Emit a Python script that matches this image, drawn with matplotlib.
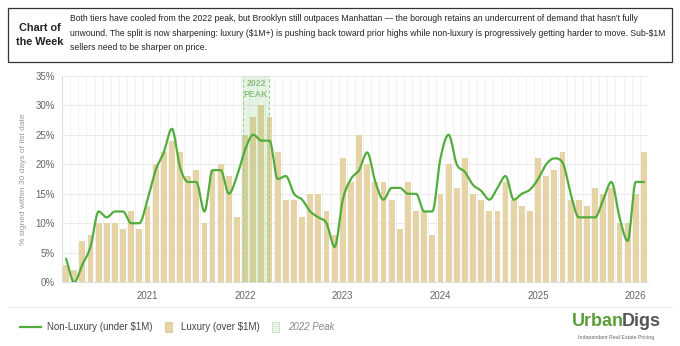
import numpy as np
import matplotlib
matplotlib.use("Agg")
import matplotlib.pyplot as plt
from matplotlib.patches import Rectangle
from matplotlib.lines import Line2D

plt.rcParams['font.family'] = ['Liberation Sans', 'DejaVu Sans']

# monthly data, Mar 2020 .. Feb 2026
start_year, start_month = 2020, 3
luxury = [3, 2, 7, 8, 10, 10, 10, 9, 12, 9,
          13, 20, 22, 24, 22, 18, 19, 10, 19, 20, 18, 11,
          25, 28, 30, 28, 22, 14, 14, 11, 15, 15, 12, 8,
          21, 17, 25, 20, 17, 17, 14, 9, 17, 12, 12, 8,
          15, 20, 16, 21, 15, 14, 12, 12, 17, 14, 13, 12,
          21, 18, 19, 22, 14, 14, 13, 16, 15, 16, 10, 10,
          15, 22]
non_luxury = [4, 0, 3, 6, 12, 11, 12, 12, 10, 10,
              14, 19, 22, 26, 19.5, 17, 17, 12, 19, 19, 15, 18,
              22.5, 25, 24, 24, 17.5, 18, 15, 14, 12, 11, 10, 6,
              14, 17.5, 19, 22, 17, 14, 16, 16, 15, 15, 12, 12,
              21, 25, 20, 18.7, 16.5, 15.5, 14, 16, 18, 14, 15, 15.7,
              17.5, 20, 21, 20.3, 15, 11, 11, 11, 14, 17, 11, 7,
              17, 17]
year_labels = ['2021', '2022', '2023', '2024', '2025', '2026']
peak_start, peak_end = (2022, 1), (2022, 4)

header_text = ("Both tiers have cooled from the 2022 peak, but Brooklyn still outpaces Manhattan \u2014 the borough retains an undercurrent of demand that hasn't fully\n"
               "unwound. The split is now sharpening: luxury (\\$1M+) is pushing back toward prior highs while non-luxury is progressively getting harder to move. Sub-\\$1M\n"
               "sellers need to be sharper on price.")


def month_index(y, m):
    return (y - start_year) * 12 + (m - start_month)


def monotone_path(xs, ys, n=24):
    # monotone cubic (Fritsch-Carlson), like chart.js "monotone"
    xs = np.asarray(xs, float)
    ys = np.asarray(ys, float)
    d = np.diff(ys) / np.diff(xs)
    m = np.zeros_like(ys)
    m[0], m[-1] = d[0], d[-1]
    for k in range(1, len(ys) - 1):
        if d[k - 1] * d[k] > 0:
            m[k] = (d[k - 1] + d[k]) / 2
    for k in range(len(d)):
        if d[k] == 0:
            m[k] = m[k + 1] = 0
            continue
        a, b = m[k] / d[k], m[k + 1] / d[k]
        s = a * a + b * b
        if s > 9:
            t = 3 / np.sqrt(s)
            m[k], m[k + 1] = t * a * d[k], t * b * d[k]
    px, py = [], []
    t = np.linspace(0, 1, n, endpoint=False)
    h00 = 2 * t**3 - 3 * t**2 + 1
    h10 = t**3 - 2 * t**2 + t
    h01 = -2 * t**3 + 3 * t**2
    h11 = t**3 - t**2
    for k in range(len(d)):
        h = xs[k + 1] - xs[k]
        px.append(xs[k] + t * h)
        py.append(h00 * ys[k] + h10 * h * m[k] + h01 * ys[k + 1] + h11 * h * m[k + 1])
    px.append([xs[-1]])
    py.append([ys[-1]])
    return np.concatenate(px), np.concatenate(py)


W, H = 680, 346
fig = plt.figure(figsize=(W / 100, H / 100), dpi=100)
fig.patch.set_facecolor('white')

# header box
fig.add_artist(Rectangle((8 / W, 1 - 62 / H), 664 / W, 54 / H, transform=fig.transFigure,
                         facecolor='white', edgecolor='#333333', lw=0.9))
fig.text(40 / W, 1 - 35 / H, "Chart of\nthe Week", ha='center', va='center',
         fontsize=7.8, fontweight='bold', color='#222222', linespacing=1.6)
fig.text(70 / W, 1 - 33 / H, header_text, ha='left', va='center', fontsize=6.2,
         color='#222222', linespacing=1.75)

ax = fig.add_axes([62 / W, 1 - 282.3 / H, 586 / W, 206.6 / H])
x = np.arange(len(luxury))

ax.bar(x, luxury, width=0.72, color='#e7d4a6', zorder=2)

p0 = month_index(*peak_start) - 0.2
p1 = month_index(*peak_end) - 0.1
ax.axvspan(p0, p1, facecolor='#66bb55', alpha=0.16, zorder=3, lw=0)
for xv in (p0, p1):
    ax.axvline(xv, color='#9fcf95', lw=0.8, ls=(0, (3, 2)), zorder=3)
ax.text((p0 + p1) / 2, 32.7, "2022\nPEAK", ha='center', va='center', fontsize=6.3,
        fontweight='bold', color='#8cbf80', linespacing=1.3, zorder=4)

sx, sy = monotone_path(x, non_luxury)
ax.plot(sx, sy, color='#52ad3c', lw=1.6, zorder=5, solid_capstyle='round')

ax.set_xlim(-0.5, len(luxury) - 0.5)
ax.set_ylim(0, 35)
ax.set_yticks(np.arange(0, 36, 5))
ax.set_yticklabels([f"{v}%" for v in range(0, 36, 5)])
jan_idx = [month_index(int(yl), 1) for yl in year_labels]
ax.set_xticks(jan_idx)
ax.set_xticklabels(year_labels)
ax.set_xticks(np.arange(-0.5, len(luxury), 1), minor=True)
ax.tick_params(axis='both', length=0, labelsize=7, colors='#666666', pad=5)
ax.tick_params(axis='x', which='both', length=0, pad=6)
ax.grid(axis='y', color='#ebebeb', lw=0.7, zorder=0)
ax.grid(axis='x', which='minor', color='#f0f0f0', lw=0.6, zorder=0)
for s in ('top', 'right'):
    ax.spines[s].set_visible(False)
ax.spines['left'].set_color('#dddddd')
ax.spines['bottom'].set_color('#dddddd')
ax.spines['left'].set_linewidth(0.7)
ax.spines['bottom'].set_linewidth(0.7)
ax.set_ylabel("% signed within 30 days of list date", fontsize=6, color='#999999', labelpad=6)

# separator
fig.add_artist(Line2D([8 / W, 672 / W], [1 - 307 / H] * 2, transform=fig.transFigure,
                      color='#eeeeee', lw=1.0))

# legend
ly = 1 - 327 / H
fig.add_artist(Line2D([20 / W, 41 / W], [ly, ly], transform=fig.transFigure, color='#52ad3c', lw=1.6))
fig.text(47 / W, ly, "Non-Luxury (under \\$1M)", fontsize=7, color='#444444', va='center')
fig.add_artist(Rectangle((165 / W, ly - 5 / H), 7 / W, 10 / H, transform=fig.transFigure,
                         facecolor='#e7d4a6', edgecolor='#d8c08a', lw=0.5))
fig.text(181 / W, ly, "Luxury (over \\$1M)", fontsize=7, color='#444444', va='center')
fig.add_artist(Rectangle((272 / W, ly - 5 / H), 7 / W, 10 / H, transform=fig.transFigure,
                         facecolor='#e6f3e2', edgecolor='#a9d3a0', lw=0.6, ls=(0, (1.5, 1))))
fig.text(288 / W, ly, "2022 Peak", fontsize=7, color='#888888', va='center', style='italic')

# logo
urban = fig.text(572 / W, 1 - 322 / H, "Urban", fontsize=13, fontweight='bold', color='#5a9e3a',
                 va='center', ha='left')
fig.canvas.draw()
bb = urban.get_window_extent()
fig.text((bb.x1 - 2.5) / W, 1 - 322 / H, "Digs", fontsize=13, fontweight='bold', color='#555555',
         va='center', ha='left')
fig.text(616 / W, 1 - 337 / H, "Independent Real Estate Pricing", fontsize=3.8,
         color='#666666', va='center', ha='center')

fig.savefig("out.png", dpi=100, facecolor='white')
